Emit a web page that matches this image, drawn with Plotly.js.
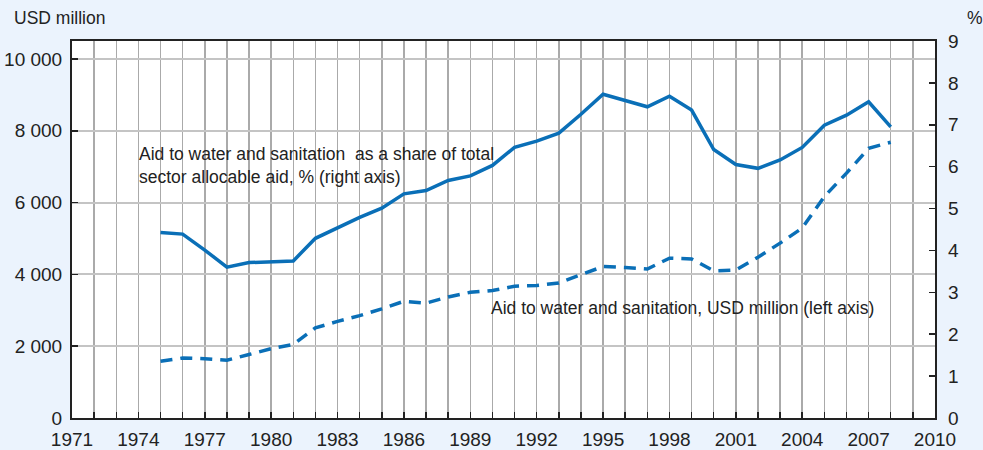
<!DOCTYPE html>
<html>
<head>
<meta charset="utf-8">
<script src="https://cdn.plot.ly/plotly-3.0.1.min.js"></script>
<style>
  html, body { margin: 0; padding: 0; background: #EBF3FD; }
  #chart { width: 983px; height: 450px; }
</style>
</head>
<body>
<div id="chart"></div>
<script>
// 年份
const years = [1975, 1976, 1977, 1978, 1979, 1980, 1981, 1982, 1983, 1984, 1985,
    1986, 1987, 1988, 1989, 1990, 1991, 1992, 1993, 1994, 1995, 1996, 1997,
    1998, 1999, 2000, 2001, 2002, 2003, 2004, 2005, 2006, 2007, 2008];

// 佔部門可分配援助的比例 (%)，右軸
const sharePct = [4.43, 4.39, 4.01, 3.60, 3.71, 3.73, 3.75, 4.29, 4.55, 4.79, 5.01,
    5.35, 5.43, 5.67, 5.78, 6.03, 6.46, 6.61, 6.80, 7.25, 7.73, 7.59, 7.43,
    7.68, 7.35, 6.41, 6.05, 5.96, 6.16, 6.46, 6.99, 7.23, 7.55, 6.95];

// 水與衛生援助 (百萬美元)，左軸
const aidUsd = [1580, 1670, 1650, 1610, 1770, 1930, 2050, 2510, 2690, 2850, 3040,
    3250, 3200, 3370, 3500, 3550, 3670, 3690, 3760, 3990, 4220, 4190, 4150,
    4450, 4430, 4100, 4120, 4480, 4870, 5290, 6170, 6820, 7510, 7680];

// 軸刻度
const leftTicks = [0, 2000, 4000, 6000, 8000, 10000];
const leftTickText = ['0', '2 000', '4 000', '6 000', '8 000', '10 000'];
const rightTicks = [0, 1, 2, 3, 4, 5, 6, 7, 8, 9];

const FONT = '"Liberation Sans Narrow", "Arial Narrow", sans-serif';
const BLUE = '#0A6FB7';
const INK = '#222222';

const traces = [
    {
        x: years,
        y: sharePct,
        type: 'scatter',
        mode: 'lines',
        yaxis: 'y2',
        line: { color: BLUE, width: 3.5 },
        hoverinfo: 'skip'
    },
    {
        x: years,
        y: aidUsd,
        type: 'scatter',
        mode: 'lines',
        yaxis: 'y',
        line: { color: BLUE, width: 3.5, dash: '12px,8px' },
        hoverinfo: 'skip'
    }
];

const tickFont = { family: FONT, size: 19, color: INK };
const noteFont = { family: FONT, size: 17.5, color: INK };

const layout = {
    width: 983,
    height: 450,
    margin: { l: 72, r: 48, t: 41, b: 32 },
    paper_bgcolor: '#EBF3FD',
    plot_bgcolor: '#ffffff',
    showlegend: false,
    font: { family: FONT, size: 18, color: INK },
    xaxis: {
        range: [1971, 2010],
        tick0: 1971,
        dtick: 3,
        ticks: 'inside',
        ticklen: 6,
        tickwidth: 1.5,
        tickcolor: INK,
        showgrid: true,
        gridcolor: '#AAAAAA',
        gridwidth: 1.5,
        minor: {
            dtick: 1,
            ticks: 'inside',
            ticklen: 6,
            tickwidth: 1.5,
            tickcolor: INK,
            showgrid: true,
            gridcolor: '#AAAAAA',
            gridwidth: 1.5
        },
        showline: true,
        linecolor: INK,
        linewidth: 2,
        mirror: true,
        zeroline: false,
        ticklabelstandoff: 3,
        tickfont: tickFont
    },
    yaxis: {
        range: [0, 10500],
        tickvals: leftTicks,
        ticktext: leftTickText,
        ticks: 'inside',
        ticklen: 6,
        tickwidth: 1.5,
        tickcolor: INK,
        showgrid: true,
        gridcolor: '#C4C4C4',
        gridwidth: 2,
        showline: true,
        linecolor: INK,
        linewidth: 2,
        mirror: true,
        zeroline: false,
        ticklabelstandoff: 4,
        tickfont: tickFont
    },
    yaxis2: {
        range: [0, 9],
        tickvals: rightTicks,
        overlaying: 'y',
        side: 'right',
        ticks: 'inside',
        ticklen: 6,
        tickwidth: 1.5,
        tickcolor: INK,
        showgrid: false,
        zeroline: false,
        ticklabelstandoff: 12,
        tickfont: tickFont
    },
    annotations: [
        {
            text: 'USD million',
            xref: 'paper', yref: 'paper',
            x: -0.069, y: 1.03,
            xanchor: 'left', yanchor: 'bottom',
            showarrow: false,
            font: noteFont
        },
        {
            text: '%',
            xref: 'paper', yref: 'paper',
            x: 1.058, y: 1.03,
            xanchor: 'right', yanchor: 'bottom',
            showarrow: false,
            font: noteFont
        },
        {
            text: 'Aid to water and sanitation  as a share of total<br>sector allocable aid, % (right axis)',
            xref: 'x', yref: 'y2',
            x: 1973.95, y: 6.6,
            xanchor: 'left', yanchor: 'top',
            align: 'left',
            showarrow: false,
            font: noteFont
        },
        {
            text: 'Aid to water and sanitation, USD million (left axis)',
            xref: 'x', yref: 'y',
            x: 1989.85, y: 3400,
            xanchor: 'left', yanchor: 'top',
            align: 'left',
            showarrow: false,
            font: noteFont
        }
    ]
};

Plotly.newPlot('chart', traces, layout, { displayModeBar: false, staticPlot: true });
</script>
</body>
</html>
